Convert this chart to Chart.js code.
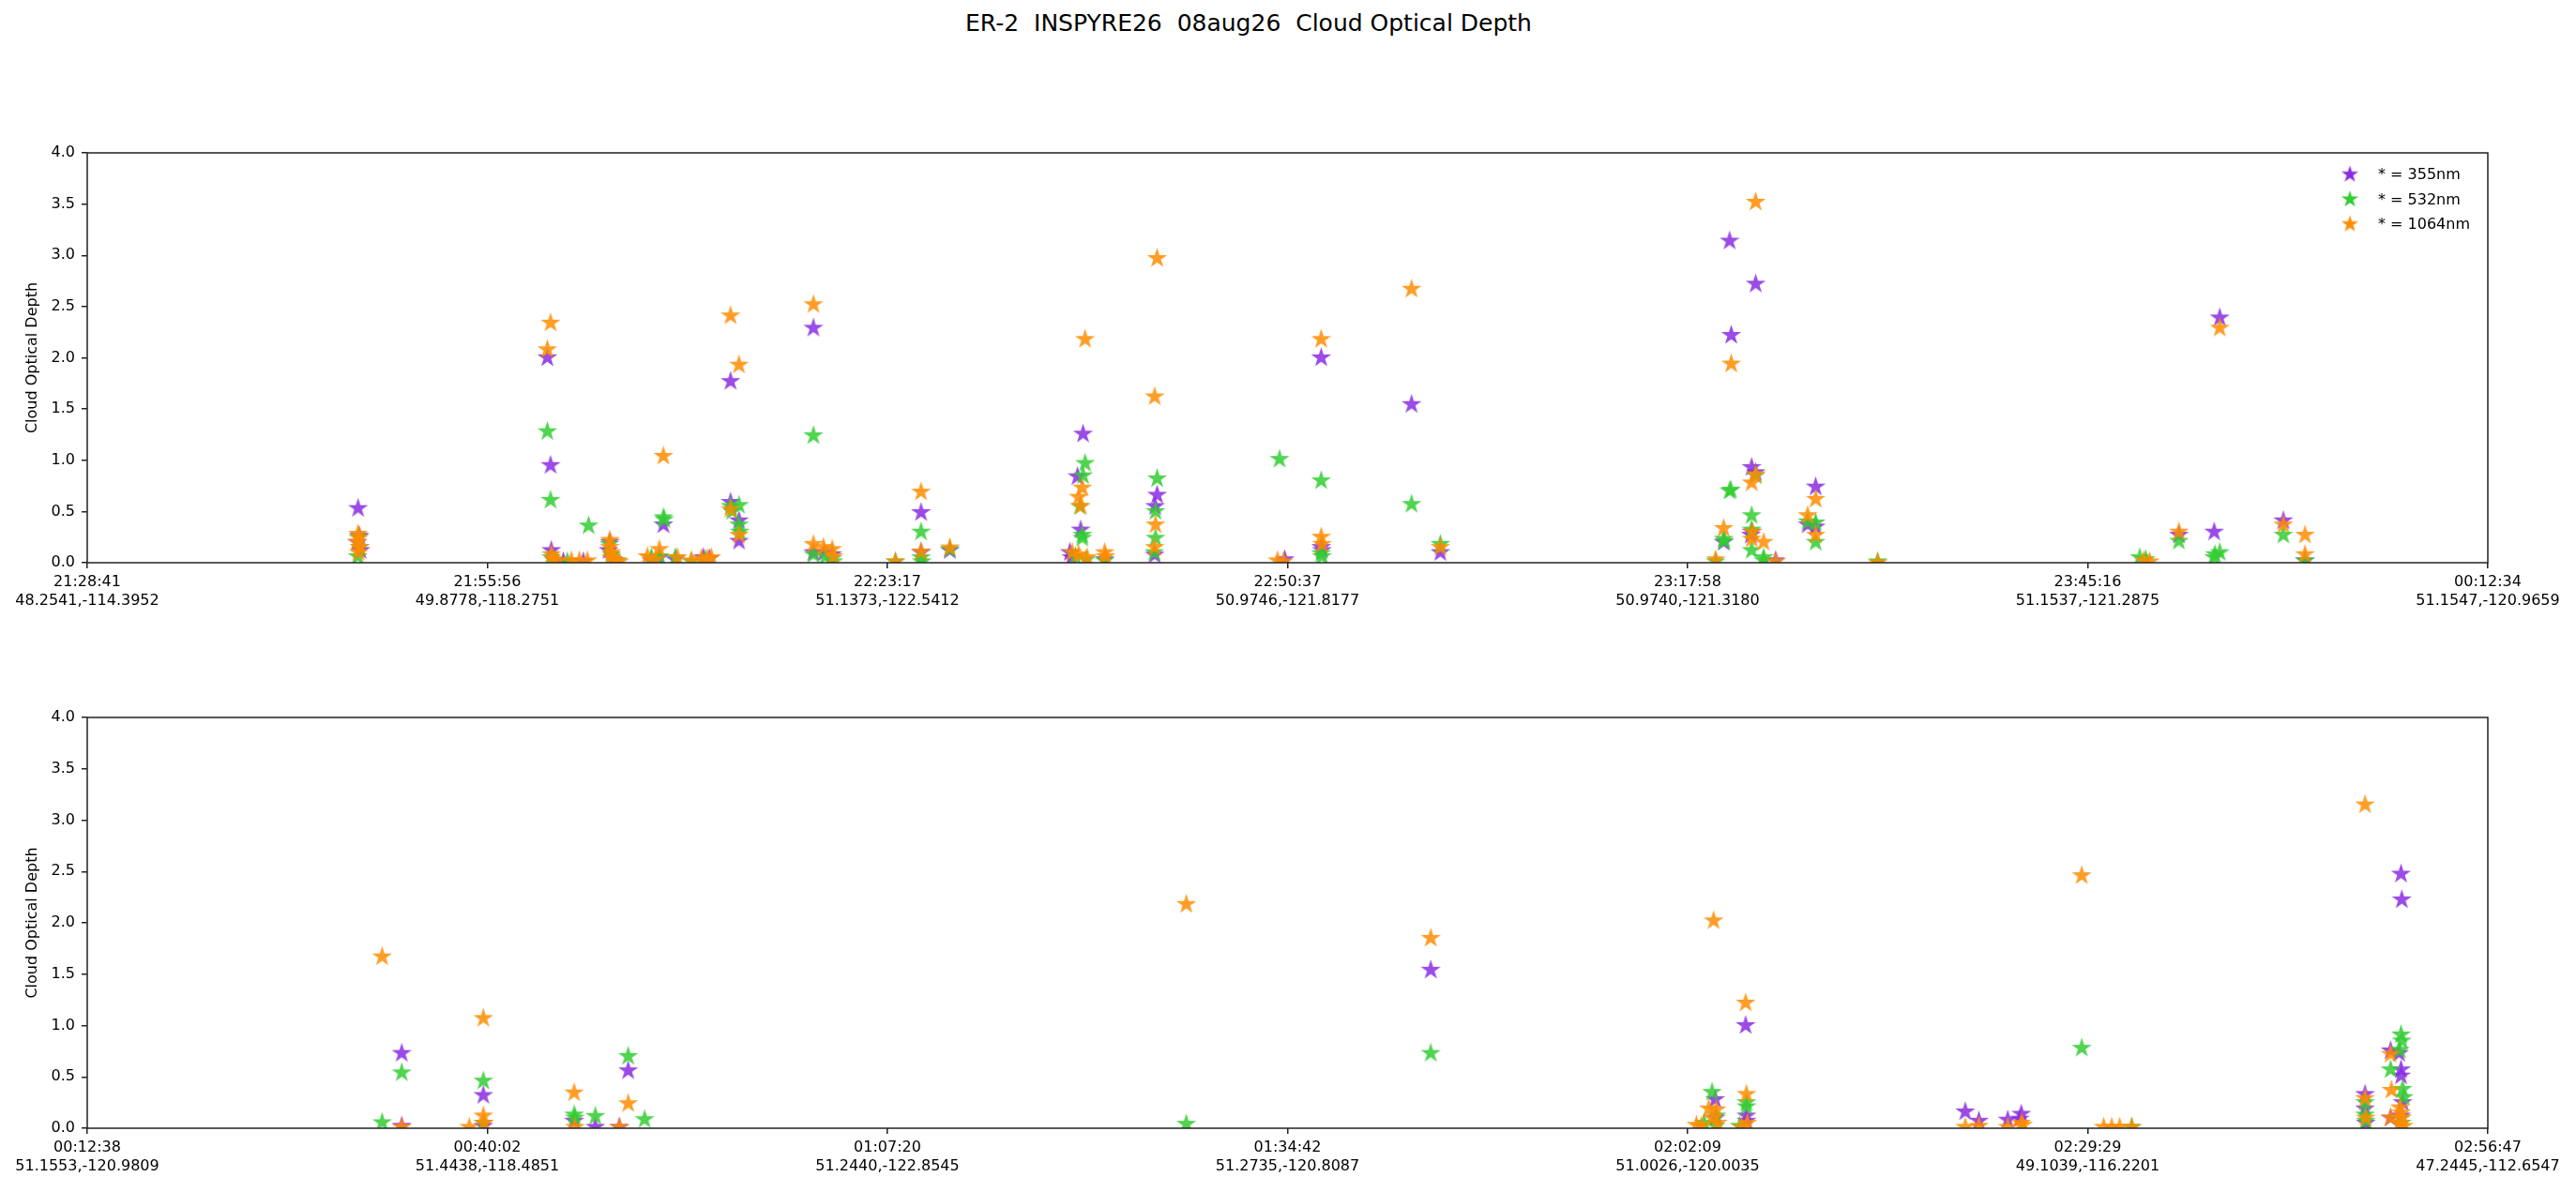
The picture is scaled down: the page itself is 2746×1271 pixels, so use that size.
<!DOCTYPE html>
<html><head><meta charset="utf-8">
<script src="https://cdn.jsdelivr.net/npm/chart.js@4.4.1/dist/chart.umd.min.js"></script>
<style>
html,body{margin:0;padding:0;background:#fff;width:2746px;height:1271px;overflow:hidden;}
#title{position:absolute;top:10px;left:1331px;transform:translateX(-50%);font-family:'DejaVu Sans';font-size:25px;white-space:pre;color:#000;line-height:30px;}
canvas{position:absolute;left:0;}
#c1{top:0;} #c2{top:700px;}
</style></head><body>
<div id="title">ER-2  INSPYRE26  08aug26  Cloud Optical Depth</div>
<canvas id="c1" width="2746" height="700" style="width:2746px;height:700px"></canvas>
<canvas id="c2" width="2746" height="571" style="width:2746px;height:571px"></canvas>
<script>
// ---- tick labels (x positions are tick-index units 0..6) ----
const topTimes  = ['21:28:41','21:55:56','22:23:17','22:50:37','23:17:58','23:45:16','00:12:34'];
const topCoords = ['48.2541,-114.3952','49.8778,-118.2751','51.1373,-122.5412','50.9746,-121.8177','50.9740,-121.3180','51.1537,-121.2875','51.1547,-120.9659'];
const botTimes  = ['00:12:38','00:40:02','01:07:20','01:34:42','02:02:09','02:29:29','02:56:47'];
const botCoords = ['51.1553,-120.9809','51.4438,-118.4851','51.2440,-122.8545','51.2735,-120.8087','51.0026,-120.0035','49.1039,-116.2201','47.2445,-112.6547'];
const seriesLabels = ['* = 355nm','* = 532nm','* = 1064nm'];

// ---- top panel data [x, COD] ----
const top355 = [[0.677,0.53],[0.680,0.26],[0.675,0.20],[0.683,0.12],
[1.150,2.00],[1.158,0.95],[1.160,0.12],[1.170,0.02],[1.19,0.01],[1.24,0.01],
[1.306,0.20],[1.303,0.12],[1.315,0.03],
[1.41,0.02],[1.43,0.05],[1.44,0.37],[1.47,0.03],[1.54,0.05],[1.555,0.04],
[1.608,1.77],[1.608,0.59],[1.629,0.41],[1.629,0.21],
[1.815,2.29],[1.815,0.10],[1.842,0.10],[1.862,0.08],
[2.084,0.49],[2.084,0.10],[2.156,0.12],
[2.456,0.10],[2.46,0.05],[2.475,0.84],[2.483,0.32],[2.489,1.256],
[2.543,0.03],[2.669,0.55],[2.668,0.076],[2.674,0.66],[2.993,0.03],
[3.084,2.00],[3.084,0.15],[3.086,0.12],[3.31,1.545],[3.382,0.10],
[4.09,0.20],[4.105,3.14],[4.109,2.22],[4.16,0.93],[4.16,0.30],[4.158,0.27],[4.17,2.72],[4.17,0.88],[4.22,0.02],[4.30,0.37],[4.32,0.74],[4.32,0.35],
[5.228,0.27],[5.316,0.30],[5.33,2.39],[5.489,0.41],[5.543,0.02]];
const top532 = [[0.678,0.25],[0.681,0.15],[0.676,0.06],
[1.150,1.28],[1.158,0.61],[1.160,0.05],[1.20,0.01],[1.253,0.36],
[1.305,0.18],[1.31,0.08],[1.325,0.02],
[1.41,0.05],[1.43,0.06],[1.44,0.44],[1.442,0.42],[1.47,0.05],[1.51,0.01],[1.545,0.03],
[1.608,0.55],[1.612,0.50],[1.629,0.56],[1.629,0.37],[1.631,0.30],
[1.815,1.24],[1.815,0.08],[1.845,0.06],[1.862,0.04],[1.865,0.01],
[2.02,0.01],[2.084,0.30],[2.084,0.05],[2.086,0.01],[2.156,0.13],
[2.47,0.06],[2.481,0.55],[2.487,0.27],[2.487,0.24],[2.489,0.85],[2.494,0.97],[2.497,0.03],
[2.543,0.02],[2.667,0.10],[2.67,0.50],[2.67,0.24],[2.674,0.82],[2.98,1.01],
[3.084,0.80],[3.084,0.09],[3.086,0.06],[3.31,0.57],[3.382,0.18],
[4.07,0.01],[4.09,0.23],[4.092,0.21],[4.105,0.70],[4.108,0.71],[4.16,0.46],[4.16,0.32],[4.16,0.12],[4.17,0.85],[4.19,0.05],[4.19,0.02],[4.30,0.40],[4.32,0.39],[4.32,0.20],[4.475,0.01],
[5.13,0.05],[5.145,0.03],[5.228,0.21],[5.316,0.05],[5.318,0.08],[5.33,0.10],[5.489,0.27],[5.543,0.02]];
const top1064 = [[0.677,0.28],[0.679,0.24],[0.675,0.20],[0.681,0.15],[0.678,0.10],
[1.150,2.08],[1.158,2.34],[1.16,0.08],[1.165,0.03],[1.175,0.02],[1.21,0.02],[1.23,0.02],[1.25,0.02],
[1.306,0.22],[1.306,0.15],[1.31,0.10],[1.31,0.05],[1.32,0.02],[1.33,0.01],
[1.40,0.06],[1.42,0.03],[1.43,0.13],[1.44,1.04],[1.475,0.05],[1.51,0.02],[1.535,0.04],[1.55,0.04],[1.56,0.05],
[1.608,2.41],[1.608,0.52],[1.629,1.93],[1.629,0.27],
[1.815,2.52],[1.815,0.18],[1.84,0.15],[1.862,0.13],[1.865,0.06],
[2.02,0.01],[2.084,0.69],[2.084,0.107],[2.156,0.146],
[2.462,0.10],[2.478,0.64],[2.478,0.08],[2.483,0.55],[2.487,0.73],[2.494,2.18],[2.499,0.05],
[2.543,0.10],[2.545,0.06],[2.668,1.62],[2.668,0.15],[2.67,0.37],[2.674,2.97],[2.975,0.02],[2.99,0.01],
[3.084,2.18],[3.084,0.25],[3.086,0.18],[3.31,2.67],[3.382,0.15],
[4.07,0.03],[4.09,0.335],[4.109,1.94],[4.16,0.78],[4.16,0.23],[4.162,0.30],[4.17,3.52],[4.17,0.86],[4.19,0.20],[4.22,0.01],[4.30,0.46],[4.32,0.62],[4.32,0.27],[4.475,0.00],
[5.14,0.02],[5.155,0.01],[5.228,0.30],[5.33,2.29],[5.489,0.37],[5.543,0.27],[5.543,0.08]];

// ---- bottom panel data [x, COD] ----
const bot355 = [[0.786,0.73],[0.786,0.02],[0.99,0.32],[0.99,0.02],[1.217,0.07],[1.27,0.01],[1.33,0.01],[1.352,0.56],
[3.358,1.54],
[4.069,0.28],[4.07,0.10],[4.145,1.00],[4.147,0.12],[4.147,0.07],
[4.694,0.16],[4.728,0.07],[4.80,0.08],[4.834,0.137],[4.83,0.09],
[5.693,0.33],[5.693,0.19],[5.695,0.05],[5.757,0.755],[5.757,0.10],[5.778,0.73],[5.783,2.475],[5.785,2.225],[5.783,0.57],[5.783,0.51],[5.787,0.25],[5.783,0.12]];
const bot532 = [[0.737,0.055],[0.786,0.54],[0.99,0.46],[0.99,0.05],[1.217,0.13],[1.219,0.10],[1.27,0.116],[1.352,0.70],[1.393,0.085],
[2.747,0.04],[3.358,0.73],
[4.041,0.05],[4.061,0.35],[4.07,0.02],[4.072,0.12],[4.13,0.02],[4.147,0.21],[4.147,0.25],
[4.985,0.78],[5.11,0.01],
[5.693,0.25],[5.693,0.13],[5.695,0.07],[5.757,0.57],[5.783,0.91],[5.785,0.85],[5.78,0.76],[5.787,0.38],[5.79,0.30],[5.783,0.10],[5.785,0.05]];
const bot1064 = [[0.737,1.67],[0.786,0.01],[0.955,0.01],[0.99,1.07],[0.99,0.12],[0.992,0.05],[1.217,0.345],[1.219,0.01],[1.33,0.01],[1.352,0.24],
[2.747,2.18],[3.358,1.85],
[4.022,0.03],[4.034,0.02],[4.053,0.19],[4.061,0.10],[4.065,2.02],[4.072,0.18],[4.075,0.05],[4.135,0.01],[4.145,1.22],[4.147,0.33],[4.149,0.05],
[4.694,0.01],[4.728,0.02],[4.80,0.01],[4.834,0.05],[4.838,0.03],
[4.985,2.46],[5.04,0.01],[5.06,0.01],[5.08,0.01],[5.11,0.01],
[5.693,3.15],[5.693,0.29],[5.695,0.10],[5.757,0.72],[5.759,0.37],[5.757,0.10],[5.78,0.20],[5.783,0.15],[5.785,0.10],[5.78,0.05],[5.79,0.02]];

// ---- styling ----
const FONT = 'DejaVu Sans';
const colors = [[138,43,226],[50,205,50],[255,140,0]];
const ALPHA = 0.85;

function starCanvas(rgb, alpha, R) {
  const s = Math.ceil(2 * R + 4);
  const c = document.createElement('canvas');
  c.width = s; c.height = s;
  const g = c.getContext('2d');
  const r = R * 0.381966;
  g.translate(s / 2, s / 2);
  g.beginPath();
  for (let i = 0; i < 10; i++) {
    const a = -Math.PI / 2 + i * Math.PI / 5;
    const rr = (i % 2 === 0) ? R : r;
    const px = rr * Math.cos(a), py = rr * Math.sin(a);
    if (i === 0) g.moveTo(px, py); else g.lineTo(px, py);
  }
  g.closePath();
  g.fillStyle = `rgba(${rgb[0]},${rgb[1]},${rgb[2]},${alpha})`;
  g.fill();
  return c;
}
const pointImgs = colors.map(c => starCanvas(c, ALPHA, 11.2));
const legendImgs = colors.map(c => starCanvas(c, 1, 9.5));

const framePlugin = {
  id: 'frame',
  afterDatasetsDraw(chart) {
    const {ctx, chartArea: a} = chart;
    ctx.save();
    ctx.strokeStyle = '#222';
    ctx.lineWidth = 1.5;
    ctx.strokeRect(a.left, a.top, a.right - a.left, a.bottom - a.top);
    ctx.restore();
  }
};
const legendPlugin = {
  id: 'starLegend',
  afterDraw(chart) {
    const {ctx, chartArea: a} = chart;
    ctx.save();
    ctx.font = `16px '${FONT}'`;
    ctx.fillStyle = '#000';
    ctx.textBaseline = 'middle';
    ctx.textAlign = 'left';
    chart.data.datasets.forEach((ds, i) => {
      const y = a.top + 23 + i * 26.5;
      const img = legendImgs[i];
      ctx.drawImage(img, a.right - 147 - img.width / 2, y - img.height / 2);
      ctx.fillText(ds.label, a.right - 117, y + 1);
    });
    ctx.restore();
  }
};

function makeChart(id, d355, d532, d1064, times, coords, padTop, xAxisH, withLegend) {
  const sets = [d355, d532, d1064];
  const datasets = sets.map((d, i) => ({
    label: seriesLabels[i],
    data: d.map(([x, y]) => ({x, y})),
    pointStyle: pointImgs[i],
    pointRadius: 10,
    pointHoverRadius: 10,
    showLine: false,
    clip: 0,
    order: 3 - i
  }));
  const tickFont = {family: FONT, size: 16, lineHeight: 1.3};
  const gridOpts = {display: true, drawOnChartArea: false, drawTicks: true, tickLength: 6, color: '#222', lineWidth: 1.5};
  return new Chart(document.getElementById(id), {
    type: 'scatter',
    data: {datasets},
    options: {
      responsive: false,
      animation: false,
      devicePixelRatio: 1,
      events: [],
      layout: {padding: {top: padTop, right: 94, left: 0, bottom: 0}},
      plugins: {legend: {display: false}, tooltip: {enabled: false}, title: {display: false}},
      scales: {
        x: {
          type: 'linear', min: 0, max: 6,
          ticks: {stepSize: 1, autoSkip: false, maxRotation: 0, minRotation: 0, padding: 4, color: '#000', font: tickFont,
            callback: v => { const i = Math.round(v); return [times[i], coords[i]]; }},
          grid: gridOpts,
          border: {display: false},
          afterFit: s => { s.height = xAxisH; }
        },
        y: {
          type: 'linear', min: 0, max: 4,
          ticks: {stepSize: 0.5, padding: 7, color: '#000', font: {family: FONT, size: 16}, callback: v => Number(v).toFixed(1)},
          grid: gridOpts,
          border: {display: false},
          title: {display: true, text: 'Cloud Optical Depth', color: '#000', font: {family: FONT, size: 16}, padding: {top: 25, bottom: 0}},
          afterFit: s => { s.width = 93; }
        }
      }
    },
    plugins: withLegend ? [framePlugin, legendPlugin] : [framePlugin]
  });
}

makeChart('c1', top355, top532, top1064, topTimes, topCoords, 163, 100, true);
makeChart('c2', bot355, bot532, bot1064, botTimes, botCoords, 65, 68, false);
</script>
</body></html>
